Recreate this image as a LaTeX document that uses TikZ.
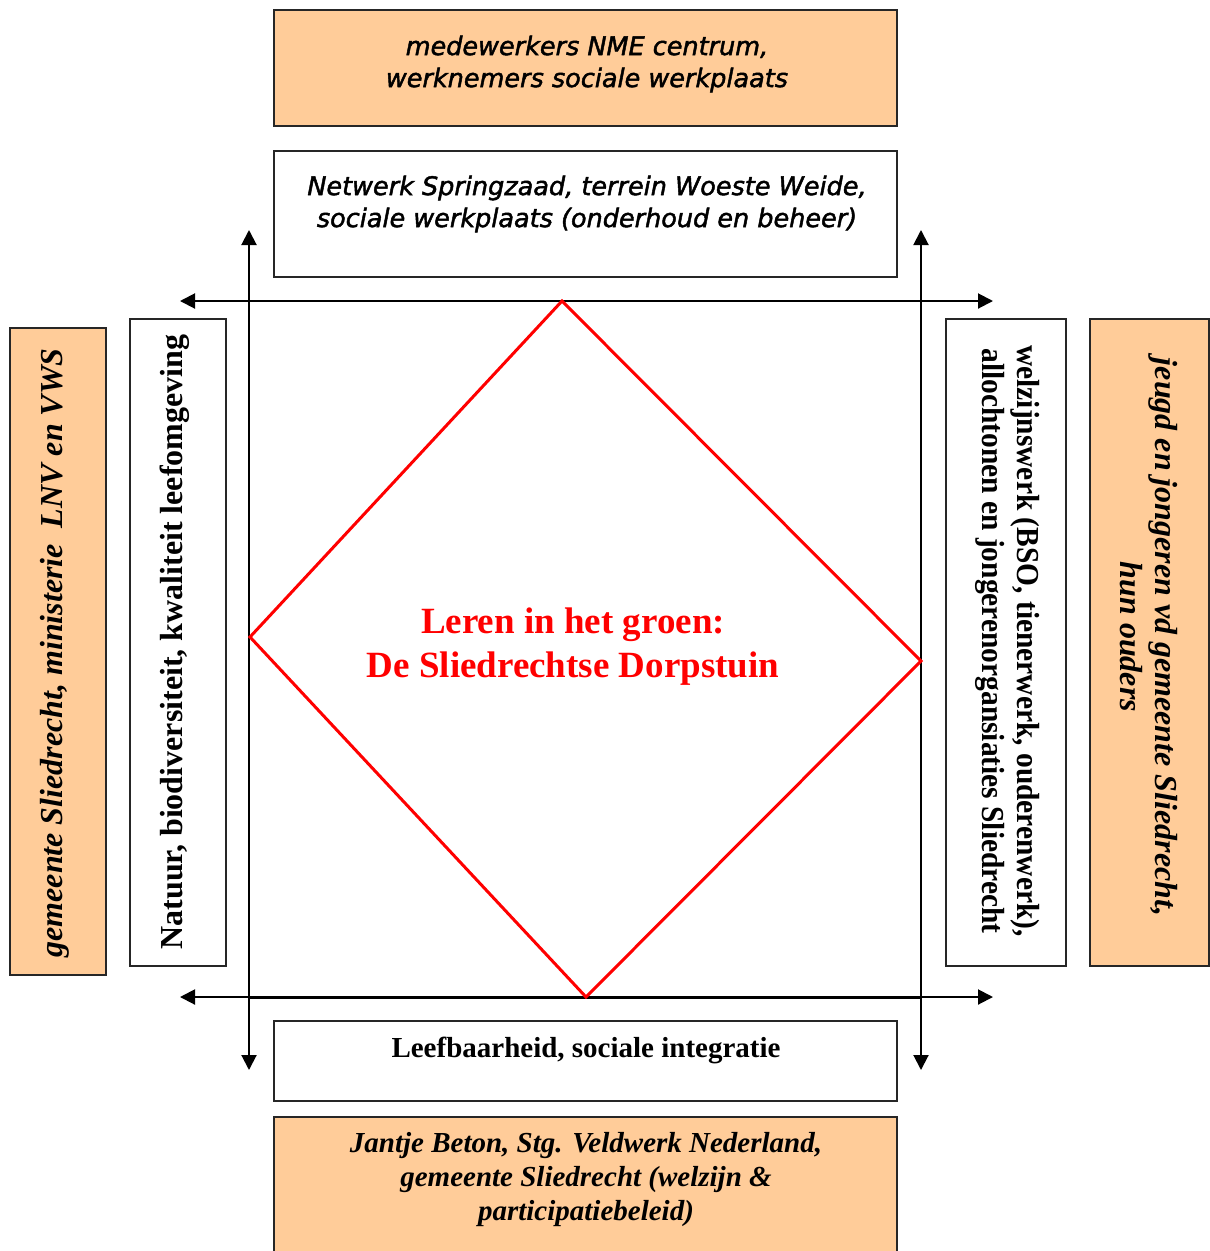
\documentclass[tikz,border=0pt]{standalone}
\usepackage{fontspec}
\setmainfont{Liberation Serif}
\newfontfamily\verdanaish[FakeBold=1.8]{DejaVu Sans}
\newfontfamily\narrowserif[FakeStretch=0.92]{Liberation Serif}
\usetikzlibrary{arrows.meta,positioning}
\definecolor{peach}{HTML}{FFCC99}
\definecolor{tuinred}{HTML}{FF0000}

\begin{document}
\begin{tikzpicture}[x=1pt,y=-1pt,
    box/.style={draw=black!85,line width=2pt},
    orangebox/.style={box,fill=peach},
    axis/.style={line width=2pt,{Triangle[length=15pt,width=15pt]}-{Triangle[length=15pt,width=15pt]}},
    txt/.style={align=center,inner sep=0pt}]
      \useasboundingbox (0,0) rectangle (1210,1251);
      % boxes boven
      \draw[orangebox] (274,10) rectangle (897,126);
      \node[txt,font=\verdanaish\itshape\fontsize{25.5}{32}\selectfont] (nme) at (587,64)
        {medewerkers NME centrum,\\werknemers sociale werkplaats};
      \draw[box] (274,151) rectangle (897,277);
      \node[txt,font=\verdanaish\itshape\fontsize{25.5}{32}\selectfont] (netwerk) at (587,204)
        {Netwerk Springzaad, terrein Woeste Weide,\\sociale werkplaats (onderhoud en beheer)};
      % boxes links
      \draw[orangebox] (10,328) rectangle (106,975);
      \node[txt,rotate=90,font=\bfseries\itshape\fontsize{32}{34}\selectfont] (gemeente) at (55,653)
        {gemeente Sliedrecht, ministerie\ \ LNV en VWS};
      \draw[box] (130,319) rectangle (226,966);
      \node[txt,rotate=90,font=\bfseries\fontsize{32}{36}\selectfont] (natuur) at (175,642)
        {Natuur, biodiversiteit, kwaliteit leefomgeving};
      % boxes rechts
      \draw[box] (946,319) rectangle (1066,966);
      \node[txt,rotate=-90,font=\narrowserif\bfseries\fontsize{32}{35}\selectfont] (welzijn) at (1008,641)
        {welzijnswerk (BSO, tienerwerk, ouderenwerk),\\allochtonen en jongerenorgansiaties Sliedrecht};
      \draw[orangebox] (1090,319) rectangle (1209,966);
      \node[txt,rotate=-90,font=\bfseries\itshape\fontsize{32}{35}\selectfont] (jeugd) at (1149,637)
        {jeugd en jongeren vd gemeente Sliedrecht,\\hun ouders};
      % boxes onder
      \draw[box] (274,1021) rectangle (897,1101);
      \node[txt,font=\bfseries\fontsize{29}{30}\selectfont] (leefbaar) at (586,1050)
        {Leefbaarheid, sociale integratie};
      \draw[orangebox] (274,1117) rectangle (897,1256);
      \node[txt,font=\bfseries\itshape\fontsize{29}{34}\selectfont] (beton) at (586,1180)
        {Jantje Beton, Stg. Veldwerk Nederland,\\gemeente Sliedrecht (welzijn \&\\participatiebeleid)};
      % assen
      \coordinate (hl1) at (180,301);
      \coordinate (hr1) at (993,301);
      \coordinate (hl2) at (180,997);
      \coordinate (hr2) at (993,997);
      \coordinate (vt1) at (249,230);
      \coordinate (vb1) at (249,1070);
      \coordinate (vt2) at (921,230);
      \coordinate (vb2) at (921,1070);
      \coordinate (sl) at (249,997);
      \coordinate (sr) at (921,997);
      \draw[axis] (hl1) -- (hr1);
      \draw[axis] (hl2) -- (hr2);
      \draw[axis] (vt1) -- (vb1);
      \draw[axis] (vt2) -- (vb2);
      \draw[line width=3pt] (sl) -- (sr);
      % ruit
      \coordinate (dt) at (562,301);
      \coordinate (dl) at (250,637);
      \coordinate (db) at (586,997);
      \coordinate (dr) at (921,661);
      \draw[tuinred,line width=3pt,line join=miter] (dt) -- (dl) -- (db) -- (dr) -- cycle;
      \node[txt,text=tuinred,font=\bfseries\fontsize{37}{44}\selectfont] (tuin) at (573,647)
        {Leren in het groen:\\De Sliedrechtse Dorpstuin};
    \end{tikzpicture}
\end{document}
